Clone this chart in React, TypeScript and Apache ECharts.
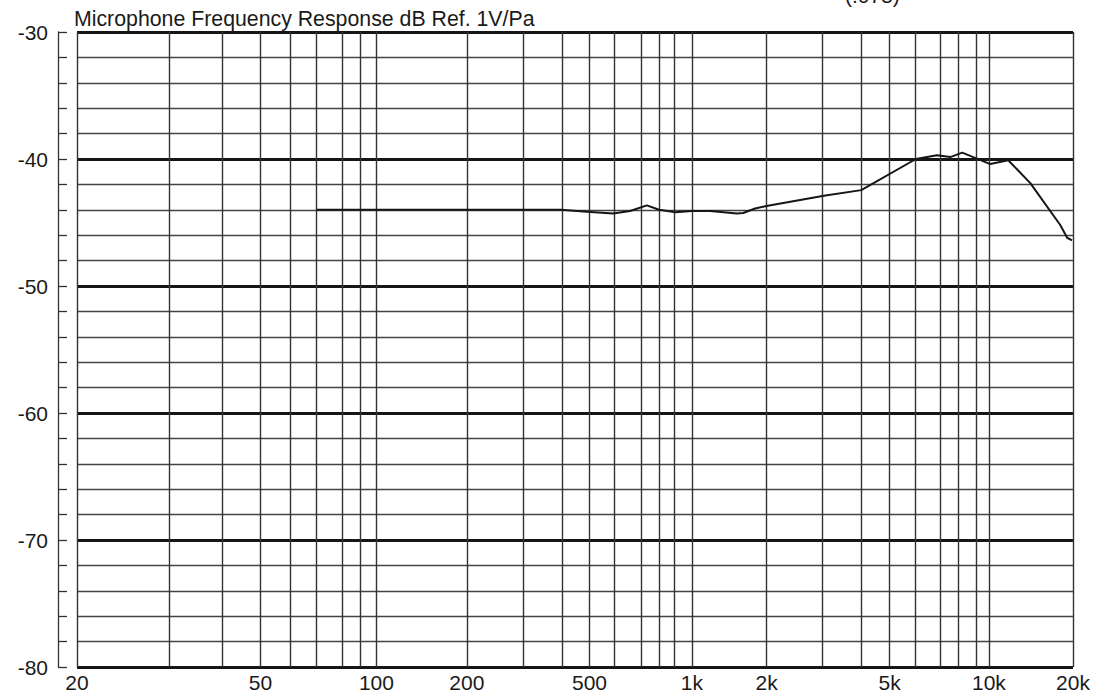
import React, { useEffect, useRef } from "react";
import * as echarts from "echarts";

const FONT = '"Liberation Sans", Arial, Helvetica, sans-serif';

// Title texts
const titleText = "Microphone Frequency Response dB Ref. 1V/Pa";
const cornerText = "(.075)";

// Frequency axis extent (log scale fitted to the picture's gridline spacing)
const xMin = 10;
const xMax = 18500;

// Vertical gridlines (Hz on that log axis), read where the picture draws them
const gridFreqs = [
  10, 20, 30, 40, 50, 61, 74, 85, 96,
  190, 290, 390, 480, 580, 710, 810, 910, 1040,
  1830, 2790, 3730, 4630, 5630, 6800, 7790, 8880, 9800,
  18500,
];

// Tick labels as printed under the gridlines
const tickFreqs = [10, 40, 96, 190, 480, 1040, 1830, 4630, 9800, 18500];
const tickLabels = ["20", "50", "100", "200", "500", "1k", "2k", "5k", "10k", "20k"];

// Response curve
const freqs = [
  61, 100, 200, 387, 470, 574, 652, 740, 812, 919, 1040, 1194, 1461, 1532,
  1677, 1827, 2819, 3737, 5649, 6622, 7321, 8015, 9903, 11345, 13400,
  16800, 17700, 18360,
];
const levels = [
  -44.0, -44.0, -44.0, -44.0, -44.15, -44.3, -44.1, -43.65, -44.0, -44.2,
  -44.1, -44.1, -44.3, -44.25, -43.9, -43.7, -42.9, -42.45, -40.0, -39.7,
  -39.85, -39.5, -40.4, -40.1, -41.9, -45.2, -46.2, -46.4,
];

const yMin = -80;
const yMax = -30;

export default function App() {
  const ref = useRef<HTMLDivElement>(null);

  useEffect(() => {
    if (!ref.current) return;
    const chart = echarts.init(ref.current, null, { renderer: "svg" });
    const option: any = {
      animation: false,
      backgroundColor: "#ffffff",
      textStyle: { fontFamily: FONT },
      title: {
        text: titleText,
        left: 74,
        top: 8,
        padding: 0,
        textStyle: {
          fontFamily: FONT,
          fontSize: 21.3,
          fontWeight: "normal",
          color: "#1a1a1a",
        },
      },
      graphic: [
        {
          type: "text",
          left: 845,
          top: -15,
          style: {
            text: cornerText,
            font: `21px ${FONT}`,
            fill: "#1a1a1a",
          },
        },
      ],
      grid: { left: 77, right: 25, top: 32, bottom: 29 },
      xAxis: {
        type: "log",
        logBase: 10,
        min: xMin,
        max: xMax,
        axisLine: { show: false },
        axisTick: { show: false },
        axisLabel: { show: false },
        splitLine: { show: false },
        minorTick: { show: false },
        minorSplitLine: { show: false },
      },
      yAxis: [
        {
          type: "value",
          min: yMin,
          max: yMax,
          interval: 2,
          offset: 19,
          position: "left",
          axisLine: { show: true, lineStyle: { color: "#333", width: 1.3 } },
          axisTick: {
            show: true,
            inside: true,
            length: 9,
            lineStyle: { color: "#333", width: 1.3 },
          },
          axisLabel: {
            margin: 10,
            fontSize: 21,
            fontFamily: FONT,
            color: "#1a1a1a",
            formatter: (v: number) => (v % 10 === 0 ? String(v) : ""),
          },
          splitLine: { show: true, lineStyle: { color: "#444", width: 1.4 } },
        },
        {
          type: "value",
          min: yMin,
          max: yMax,
          interval: 10,
          position: "left",
          axisLine: { show: false },
          axisTick: { show: false },
          axisLabel: { show: false },
          splitLine: { show: true, lineStyle: { color: "#161616", width: 2.8 } },
        },
      ],
      series: [
        {
          type: "line",
          data: [],
          yAxisIndex: 0,
          silent: true,
          clip: false,
          z: 1,
          markLine: {
            silent: true,
            symbol: ["none", "none"],
            label: { show: false },
            lineStyle: { type: "solid", color: "#333", width: 1.4 },
            emphasis: { disabled: true },
            data: gridFreqs.map((f) => ({ xAxis: f })),
          },
        },
        {
          type: "line",
          data: [],
          yAxisIndex: 0,
          silent: true,
          clip: false,
          z: 1,
          markLine: {
            silent: true,
            symbol: ["none", "none"],
            lineStyle: { type: "solid", color: "rgba(0,0,0,0)", width: 1 },
            emphasis: { disabled: true },
            label: {
              show: true,
              position: "start",
              distance: 5,
              fontSize: 21,
              fontFamily: FONT,
              color: "#1a1a1a",
              opacity: 1,
            },
            data: tickFreqs.map((f, i) => ({
              xAxis: f,
              label: { formatter: tickLabels[i] },
            })),
          },
        },
        {
          type: "line",
          yAxisIndex: 0,
          data: freqs.map((f, i) => [f, levels[i]]),
          showSymbol: false,
          symbol: "none",
          smooth: false,
          z: 5,
          lineStyle: { color: "#151515", width: 2 },
        },
      ],
    };
    chart.setOption(option);
    return () => chart.dispose();
  }, []);

  return (
    <div
      ref={ref}
      style={{
        position: "fixed",
        left: 0,
        top: 0,
        width: 1098,
        height: 696,
        background: "#ffffff",
      }}
    />
  );
}
